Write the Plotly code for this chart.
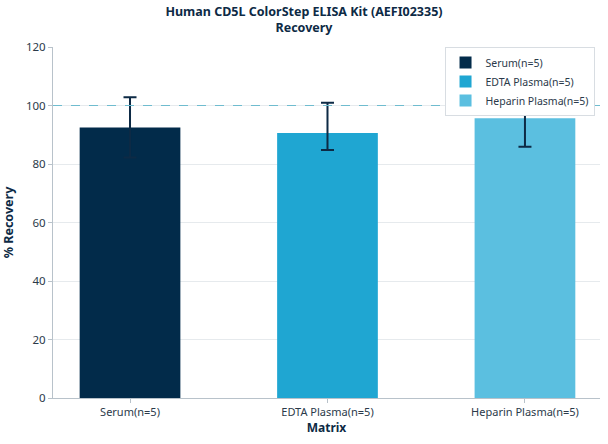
import plotly.graph_objects as go

# values
matrices = ["Serum(n=5)", "EDTA Plasma(n=5)", "Heparin Plasma(n=5)"]
recovery = [92.5, 90.6, 95.6]
err_plus = [10.3, 10.3, 9.6]
err_minus = [10.3, 5.8, 9.7]
colors = ["#022b4a", "#1fa6d2", "#5bbfe0"]
target = 100

navy = "#0d2a45"
font_family = "Noto Sans, Open Sans, sans-serif"

fig = go.Figure()
for i, name in enumerate(matrices):
    fig.add_trace(go.Bar(
        name=name,
        x=[name],
        y=[recovery[i]],
        width=0.51,
        marker=dict(color=colors[i], line=dict(width=0)),
        error_y=dict(type="data", symmetric=False,
                     array=[err_plus[i]], arrayminus=[err_minus[i]],
                     color=navy, thickness=2, width=6.5),
    ))

# dashed 100% reference line
fig.add_shape(type="line", xref="paper", x0=0, x1=1, y0=target, y1=target,
              line=dict(color="#6fbccf", width=1, dash="dash"), layer="above")

fig.update_layout(
    width=608, height=444,
    margin=dict(l=53, r=8, t=47, b=46),
    paper_bgcolor="white", plot_bgcolor="white",
    barmode="overlay",
    font=dict(family=font_family, size=11, color="#2b3a4a"),
    title=dict(text="<b>Human CD5L ColorStep ELISA Kit (AEFI02335)<br>Recovery</b>",
               x=0.5, xanchor="center", yref="container", y=0.965, yanchor="middle",
               font=dict(size=12.5, color=navy)),
    legend=dict(x=0.99, y=1.0, xanchor="right", yanchor="top",
                bgcolor="white", bordercolor="#d8dde2", borderwidth=1,
                font=dict(size=10.5, color="#2b3a4a"), tracegroupgap=0,
                itemwidth=30),
    showlegend=True,
)
fig.update_xaxes(
    range=[-0.39, 2.38],
    title=dict(text="<b>Matrix</b>", font=dict(size=12, color=navy), standoff=4),
    showline=True, linecolor="#b8c2ca", linewidth=1,
    ticks="outside", ticklen=4, tickcolor="#b8c2ca",
    showgrid=False, tickfont=dict(size=11, color="#2b3a4a"),
)
fig.update_yaxes(
    range=[0, 120], dtick=20,
    title=dict(text="<b>% Recovery</b>", font=dict(size=12.5, color=navy), standoff=10),
    showline=True, linecolor="#b8c2ca", linewidth=1,
    ticks="outside", ticklen=4, tickcolor="#b8c2ca",
    showgrid=True, gridcolor="#e6eaed", gridwidth=1,
    zeroline=False, tickfont=dict(size=11.5, color="#2b3a4a"),
)

# page body has a default margin; drop it so the chart sits at the corner
fig.write_html("out.html", config={"displayModeBar": False},
               post_script="document.body.style.margin='0';")
